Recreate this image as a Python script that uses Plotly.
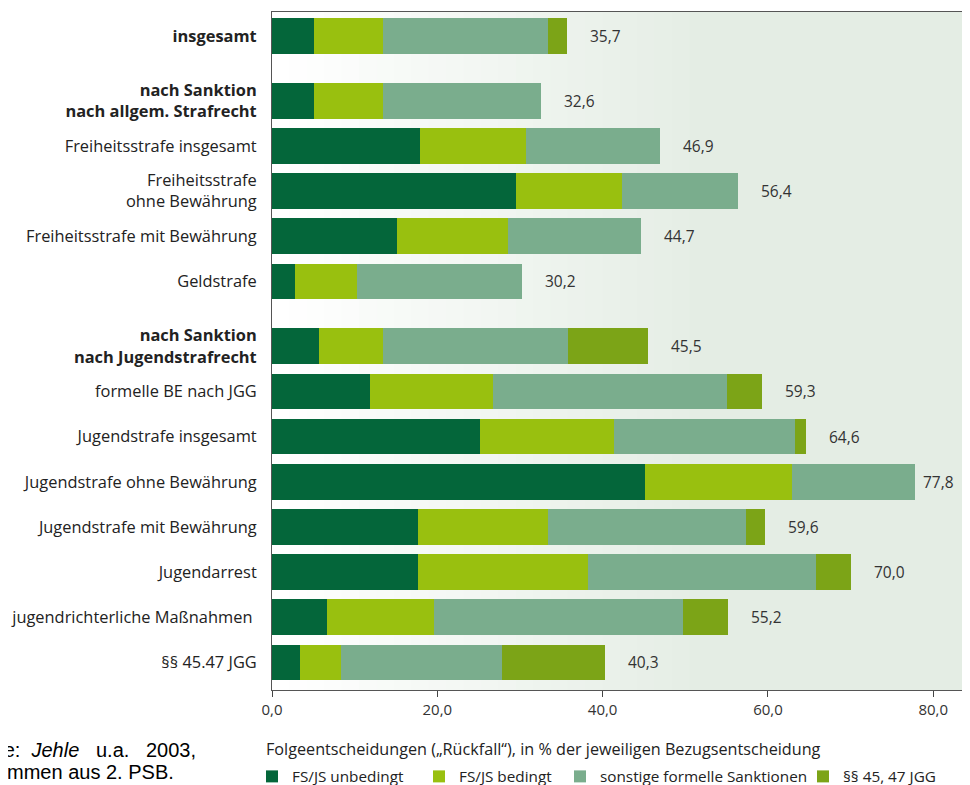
import plotly.graph_objects as go

# ---------------- data ----------------
categories = [
    "<b>insgesamt</b>",
    "<b>nach Sanktion</b><br><b>nach allgem. Strafrecht</b>",
    "Freiheitsstrafe insgesamt",
    "Freiheitsstrafe<br>ohne Bewährung",
    "Freiheitsstrafe mit Bewährung",
    "Geldstrafe",
    "<b>nach Sanktion</b><br><b>nach Jugendstrafrecht</b>",
    "formelle BE nach JGG",
    "Jugendstrafe insgesamt",
    "Jugendstrafe ohne Bewährung",
    "Jugendstrafe mit Bewährung",
    "Jugendarrest",
    "jugendrichterliche Maßnahmen\u00a0",
    "§§ 45.47 JGG",
]
groups = [0, 1, 1, 1, 1, 1, 2, 2, 2, 2, 2, 2, 2, 2]

fs_unbedingt = [5.1, 5.1, 17.9, 29.5, 15.1, 2.8, 5.7, 11.9, 25.2, 45.1, 17.7, 17.7, 6.7, 3.4]
fs_bedingt = [8.3, 8.3, 12.8, 12.8, 13.4, 7.5, 7.7, 14.8, 16.2, 17.8, 15.7, 20.5, 12.9, 5.0]
sonstige = [20.0, 19.2, 16.2, 14.1, 16.2, 19.9, 22.4, 28.4, 21.9, 14.9, 24.0, 27.6, 30.1, 19.4]
jgg_45_47 = [2.3, 0.0, 0.0, 0.0, 0.0, 0.0, 9.7, 4.2, 1.3, 0.0, 2.2, 4.2, 5.5, 12.5]
totals = [35.7, 32.6, 46.9, 56.4, 44.7, 30.2, 45.5, 59.3, 64.6, 77.8, 59.6, 70.0, 55.2, 40.3]

series_names = ["FS/JS unbedingt", "FS/JS bedingt", "sonstige formelle Sanktionen", "§§ 45, 47 JGG"]
x_tickvals = [0, 20, 40, 60, 80]
x_ticktext = ["0,0", "20,0", "40,0", "60,0", "80,0"]

legend_title = "Folgeentscheidungen („Rückfall“), in % der jeweiligen Bezugsentscheidung"
source_line1 = "Quelle:\u00a0 <i>Jehle</i>\u00a0\u00a0 u.a.\u00a0\u00a0 2003,"
source_line2 = "entnommen aus 2. PSB."

# ---------------- styling / layout ----------------
colors = ["#04663A", "#99C00F", "#7AAD8D", "#7CA417"]
FONT = "Open Sans"
GROUP_GAP = 0.435
X_MAX = 84.2

# the page body has an 8px margin: work in page pixels and convert
OFF = 8
W, H = 970 - OFF, 785 - OFF
PL, PR, PT, PB = 272, 968, 12, 690.5   # plot area in page pixels
PW, PH = PR - PL, PB - PT


def px_x(x):
    return (x - PL) / PW


def px_y(y):
    return (PB - y) / PH


positions = [i + GROUP_GAP * g for i, g in enumerate(groups)]
legend_ids = ["legend", "legend2", "legend3", "legend4"]
legend_marker_left = [266, 433, 574, 817]

fig = go.Figure()
for name, vals, col, lid in zip(series_names, [fs_unbedingt, fs_bedingt, sonstige, jgg_45_47], colors, legend_ids):
    fig.add_trace(go.Bar(
        x=vals, y=positions, orientation="h", name=name,
        marker=dict(color=col, line=dict(width=0)),
        width=0.79, legend=lid,
    ))

# value labels (pulled closer to the bar when near the right frame)
LABEL_W = 33
for t, p in zip(totals, positions):
    bar_end_px = PL + t / X_MAX * PW
    shift = min(21, (PR - 14) - bar_end_px - LABEL_W)
    fig.add_annotation(
        x=t, y=p, xref="x", yref="y", text=f"{t:.1f}".replace(".", ","),
        showarrow=False, xanchor="left", xshift=shift,
        font=dict(family=FONT, size=15.5, color="#333333"),
    )

# gradient background in plot area
n_bands = 40
c0 = (255, 255, 255)
c1 = (228, 237, 228)
for k in range(n_bands):
    f = k / (n_bands - 1)
    f = min(1.0, f * 1.6)
    c = tuple(round(c0[j] + (c1[j] - c0[j]) * f) for j in range(3))
    fig.add_shape(
        type="rect", xref="x domain", yref="y domain",
        x0=k / n_bands, x1=(k + 1) / n_bands + 0.002, y0=0, y1=1,
        fillcolor=f"rgb{c}", line=dict(width=0), layer="below",
    )

# legend title
fig.add_annotation(
    x=px_x(264), y=px_y(750), xref="paper", yref="paper",
    text=legend_title, showarrow=False, xanchor="left", yanchor="middle",
    font=dict(family=FONT, size=16.2, color="#222222"),
)

# source note (partially cut off on left edge, as in reference)
for line, yc in [(source_line1, 751), (source_line2, 773)]:
    fig.add_annotation(
        x=px_x(-45), y=px_y(yc), xref="paper", yref="paper",
        text=line, showarrow=False, xanchor="left", yanchor="middle", align="left",
        font=dict(family="Liberation Sans, Arial", size=20, color="#000000"),
    )

layout_legends = {}
for lid, ml in zip(legend_ids, legend_marker_left):
    layout_legends[lid] = dict(
        orientation="h", x=px_x(ml - 14), xanchor="left",
        y=px_y(777), yanchor="middle",
        font=dict(family=FONT, size=15.3, color="#222222"),
        itemwidth=30, bgcolor="rgba(0,0,0,0)", borderwidth=0,
    )

fig.update_layout(
    width=W, height=H,
    margin=dict(l=PL - OFF, r=W - (PR - OFF), t=PT - OFF, b=H - (PB - OFF), autoexpand=False),
    barmode="stack",
    bargap=0,
    paper_bgcolor="white",
    plot_bgcolor="white",
    font=dict(family=FONT, size=15, color="#222222"),
    showlegend=True,
    **layout_legends,
)

fig.update_xaxes(
    range=[0, X_MAX], tickvals=x_tickvals, ticktext=x_ticktext,
    ticks="outside", ticklen=6, tickcolor="#444444", tickwidth=1,
    showline=True, linecolor="#555555", linewidth=1, mirror=True,
    showgrid=False, zeroline=False, automargin=False,
    tickfont=dict(family=FONT, size=15, color="#333333"),
)
fig.update_yaxes(
    range=[positions[-1] + 0.61, -0.53], tickvals=positions, ticktext=categories,
    ticks="", showline=True, linecolor="#555555", linewidth=1, mirror=True,
    showgrid=False, zeroline=False, ticklabelstandoff=11, automargin=False,
    tickfont=dict(family=FONT, size=16.4, color="#222222"),
)

fig.write_html("out.html")
